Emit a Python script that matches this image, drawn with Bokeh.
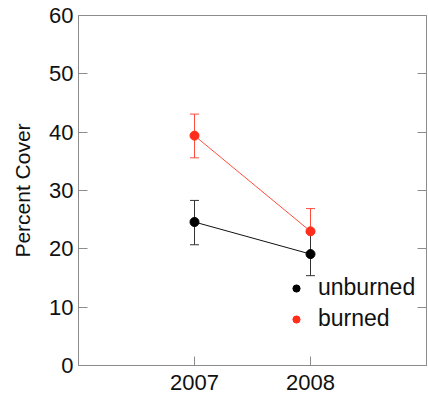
from bokeh.plotting import figure
from bokeh.models import (Range1d, FixedTicker, LinearAxis, Whisker, TeeHead,
                          ColumnDataSource, Legend, LegendItem)
from bokeh.embed import file_html
from bokeh.resources import INLINE

years = [2007, 2008]
unburned = [24.6, 19.1]
unburned_lo = [20.7, 15.4]
unburned_hi = [28.3, 22.8]
burned = [39.4, 23.0]
burned_lo = [35.6, 19.1]
burned_hi = [43.1, 26.9]
x_ticks = [2007, 2008]
y_ticks = [0, 10, 20, 30, 40, 50, 60]

FONT = "Liberation Sans"
GREY = "#8c8c8c"
RED = "#ff2d1a"
RED_LINE = "#ff4d3d"
TXT = "#111111"

p = figure(width=428, height=398, output_backend="svg", toolbar_location=None,
           x_range=Range1d(2006, 2009), y_range=Range1d(0, 60),
           min_border_left=78, min_border_right=2, min_border_top=15,
           min_border_bottom=33, x_axis_location="below", y_axis_location="left")
p.grid.visible = False
p.outline_line_color = GREY
p.outline_line_width = 1
p.background_fill_color = "white"
p.border_fill_color = "white"

for ax in (p.xaxis[0], p.yaxis[0]):
    ax.axis_line_color = GREY
    ax.major_tick_line_color = GREY
    ax.major_tick_in = 9
    ax.major_tick_out = 0
    ax.minor_tick_line_color = None
    ax.major_label_text_font = FONT
    ax.major_label_text_font_size = "22px"
    ax.major_label_text_color = TXT

p.xaxis.ticker = FixedTicker(ticks=x_ticks)
p.xaxis.major_label_overrides = {t: str(t) for t in x_ticks}
p.xaxis.major_label_standoff = 9
p.yaxis.ticker = FixedTicker(ticks=y_ticks)
p.yaxis.major_label_standoff = 5
p.yaxis.axis_label = "Percent Cover"
p.yaxis.axis_label_text_font = FONT
p.yaxis.axis_label_text_font_size = "21px"
p.yaxis.axis_label_text_font_style = "normal"
p.yaxis.axis_label_text_color = TXT
p.yaxis.axis_label_standoff = 12

right = LinearAxis(ticker=FixedTicker(ticks=y_ticks),
                   major_label_overrides={t: "" for t in y_ticks},
                   axis_line_color=GREY, major_tick_line_color=GREY,
                   major_tick_in=9, major_tick_out=0, minor_tick_line_color=None,
                   major_label_standoff=0)
p.add_layout(right, "right")

src_b = ColumnDataSource(dict(x=years, y=burned, lo=burned_lo, hi=burned_hi))
src_u = ColumnDataSource(dict(x=years, y=unburned, lo=unburned_lo, hi=unburned_hi))

# burned
p.line("x", "y", source=src_b, line_color=RED_LINE, line_width=1)
p.add_layout(Whisker(base="x", lower="lo", upper="hi", source=src_b, dimension="height",
                     line_color=RED_LINE, line_width=1,
                     upper_head=TeeHead(size=9, line_color=RED_LINE, line_width=1),
                     lower_head=TeeHead(size=9, line_color=RED_LINE, line_width=1)))
rb = p.scatter("x", "y", source=src_b, size=9, fill_color=RED, line_color=RED)

# unburned
p.line("x", "y", source=src_u, line_color="#111111", line_width=1)
p.add_layout(Whisker(base="x", lower="lo", upper="hi", source=src_u, dimension="height",
                     line_color="#333333", line_width=1,
                     upper_head=TeeHead(size=9, line_color="#333333", line_width=1),
                     lower_head=TeeHead(size=9, line_color="#333333", line_width=1)))
ru = p.scatter("x", "y", source=src_u, size=9, fill_color="black", line_color="black")

legend = Legend(items=[LegendItem(label="unburned", renderers=[ru]),
                       LegendItem(label="burned", renderers=[rb])],
                location=(209, 33), border_line_color=None, background_fill_alpha=0,
                padding=0, margin=0, spacing=4, glyph_width=18, glyph_height=20,
                label_height=20, label_standoff=13,
                label_text_font=FONT, label_text_font_size="23px",
                label_text_color=TXT)
p.add_layout(legend, "center")

open("out.html", "w").write(file_html(p, INLINE))
